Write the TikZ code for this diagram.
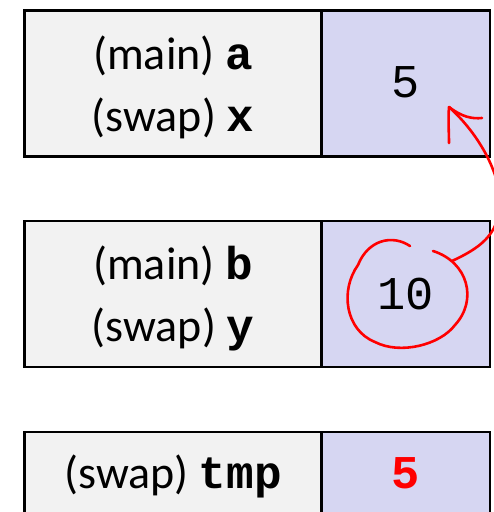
\documentclass[tikz,border=0pt]{standalone}
\usepackage{fontspec}
\setmainfont{Carlito}
\newfontfamily\codefont{Liberation Mono}
\usepackage{xcolor}
\usetikzlibrary{math}
\definecolor{namegray}{RGB}{242,242,242}
\definecolor{valblue}{RGB}{214,214,242}

\begin{document}
\begin{tikzpicture}[x=1pt,y=-1pt,
  cell/.style={draw=black, line width=2.8pt, inner sep=0pt, minimum height=146pt},
  namecell/.style={cell, fill=namegray, minimum width=297pt},
  valcell/.style={cell, fill=valblue, minimum width=168.5pt},
  lbl/.style={anchor=base, inner sep=0pt, font=\fontsize{46}{55}\selectfont},
  val/.style={inner sep=0pt, font=\fontsize{47}{56}\selectfont\codefont},
  scribble/.style={red, line width=2.6pt, line cap=round, line join=round}]
\tikzmath{
\xn=173;
\xv=405.75;
}
\useasboundingbox (0,0) rectangle (494,512);
\clip (0,0) rectangle (494,512);

% cells
\node[namecell] (boxa) at (\xn,83.5) {};
\node[valcell] (cella) at (\xv,83.5) {};
\node[namecell] (boxb) at (\xn,294) {};
\node[valcell] (cellb) at (\xv,294) {};
\node[namecell] (boxtmp) at (\xn,505) {};
\node[valcell] (celltmp) at (\xv,505) {};

% names
\node[lbl] (amain) at (\xn,69) {(main) {\codefont\bfseries a}};
\node[lbl] (xswap) at (\xn,131) {(swap) {\codefont\bfseries x}};
\node[lbl] (bmain) at (\xn,279.5) {(main) {\codefont\bfseries b}};
\node[lbl] (yswap) at (\xn,341.5) {(swap) {\codefont\bfseries y}};
\node[lbl] (tmpswap) at (\xn,488) {(swap) {\codefont\bfseries tmp}};

% values
\node[val] (aval) at (\xv,82) {5};
\node[val] (bval) at (\xv,294) {10};
\node[val, red, font=\fontsize{47}{56}\selectfont\codefont\bfseries] (tmpval) at (\xv,473.5) {5};

% scribble
\coordinate (loopend) at (452,261);
\coordinate (tip) at (449,107);
\draw[scribble] (433,251) .. controls (468,262) and (478,300) .. (455,325)
  .. controls (440,345) and (400,355) .. (375,342)
  .. controls (345,330) and (340,290) .. (358,265)
  .. controls (368,240) and (392,234) .. (410,246);
\draw[scribble] (loopend) .. controls (480,248) and (498,235) .. (500,205)
  .. controls (501,175) and (480,135) .. (tip);
\draw[scribble] (tip) .. controls (448,120) and (449,132) .. (449,143);
\draw[scribble] (tip) .. controls (462,117) and (472,119) .. (482,118);

\end{tikzpicture}
\end{document}
